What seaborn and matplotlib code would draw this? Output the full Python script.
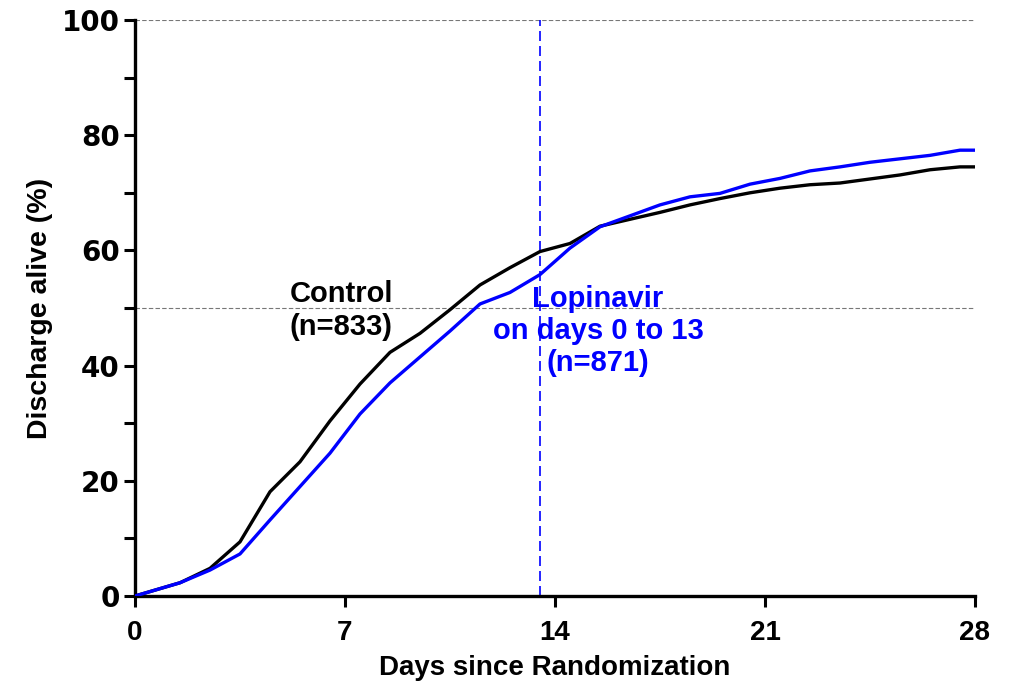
import matplotlib
matplotlib.use("Agg")
import matplotlib.pyplot as plt
from matplotlib.ticker import MultipleLocator
import seaborn as sns
import pandas as pd

days = [0, 1.5, 2.5, 3.5, 4.5, 5.5, 6.5, 7.5, 8.5, 9.5, 10.5, 11.5, 12.5, 13.5,
        14.5, 15.5, 16.5, 17.5, 18.5, 19.5, 20.5, 21.5, 22.5, 23.5, 24.5, 25.5,
        26.5, 27.5, 28]
control = [0, 2.3, 4.8, 9.4, 18.1, 23.3, 30.4, 36.8, 42.3, 45.6, 49.7, 54.0, 57.0,
           59.8, 61.2, 64.2, 65.4, 66.6, 67.9, 69.0, 70.0, 70.8, 71.4, 71.7, 72.4,
           73.1, 74.0, 74.5, 74.5]
lopinavir = [0, 2.3, 4.5, 7.3, 13.2, 19.0, 24.8, 31.6, 37.0, 41.5, 46.0, 50.7, 52.7,
             55.8, 60.4, 64.1, 66.0, 67.9, 69.3, 69.9, 71.5, 72.5, 73.8, 74.5, 75.3,
             75.9, 76.5, 77.4, 77.4]
groups = ["Control", "Lopinavir"]
colors = {"Control": "#000000", "Lopinavir": "#0000ff"}
x_ticks = [0, 7, 14, 21, 28]
y_ticks = [0, 20, 40, 60, 80, 100]
ref_lines = [50, 100]
treatment_end = 13.5

df = pd.DataFrame({
    "day": days * 2,
    "pct": control + lopinavir,
    "group": [groups[0]] * len(days) + [groups[1]] * len(days),
})

sns.set_style("ticks")
plt.rcParams["font.family"] = ["Liberation Sans", "DejaVu Sans"]
plt.rcParams["font.weight"] = "bold"
plt.rcParams["text.color"] = "black"
plt.rcParams["axes.labelcolor"] = "black"
plt.rcParams["xtick.color"] = "black"
plt.rcParams["ytick.color"] = "black"
plt.rcParams["axes.edgecolor"] = "black"

fig = plt.figure(figsize=(10.16, 6.84), dpi=100)
ax = fig.add_axes([135 / 1016, 88 / 684, 840 / 1016, 576 / 684])

for y in ref_lines:
    ax.axhline(y, color="#777777", lw=0.8, ls=(0, (4, 2)), zorder=1)
ax.axvline(treatment_end, color="#0000ff", lw=1.2, ls=(0, (6, 3)), zorder=1)

sns.lineplot(data=df, x="day", y="pct", hue="group", palette=colors,
             linewidth=2.4, legend=False, ax=ax, zorder=3)

ax.set_xlim(0, 28)
ax.set_ylim(0, 100)
ax.set_xticks(x_ticks)
ax.set_yticks(y_ticks)
ax.yaxis.set_minor_locator(MultipleLocator(10))
ax.tick_params(axis="both", which="both", direction="out", length=8, width=2.2,
               color="black", labelcolor="black")
ax.tick_params(axis="x", labelsize=20, pad=9)
ax.tick_params(axis="y", labelsize=20, pad=3)
for lab in ax.get_yticklabels():
    lab.set_family("DejaVu Sans")
    lab.set_fontweight("bold")
for lab in ax.get_xticklabels():
    lab.set_fontweight("bold")

for s in ["top", "right"]:
    ax.spines[s].set_visible(False)
for s in ["left", "bottom"]:
    ax.spines[s].set_linewidth(2.4)
    ax.spines[s].set_color("black")

ax.set_xlabel("Days since Randomization", fontsize=20, fontweight="bold", labelpad=7)
ax.set_ylabel("Discharge alive (%)", fontsize=20.5, fontweight="bold", labelpad=6)

ax.text(6.87, 49.6, "Control\n(n=833)", ha="center", va="center", fontsize=21,
        fontweight="bold", color="black", zorder=4)
ax.text(15.43, 46.0, "Lopinavir\non days 0 to 13\n(n=871)", ha="center",
        va="center", fontsize=21, fontweight="bold", color="#0000ff", zorder=4)

fig.savefig("out.png", dpi=100)
